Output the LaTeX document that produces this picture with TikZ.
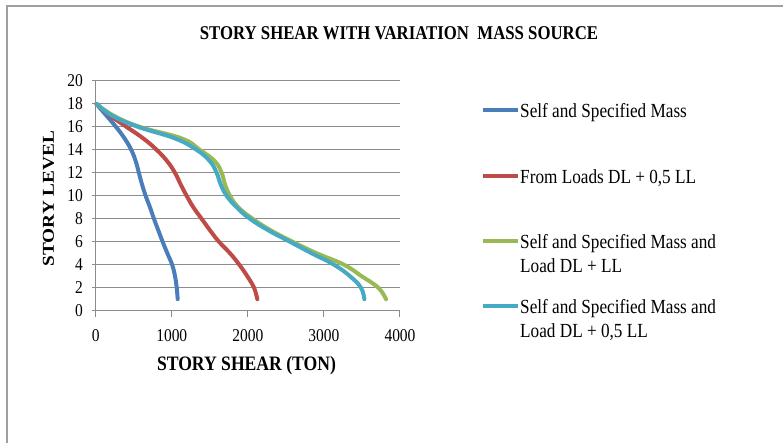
\documentclass[tikz,border=0pt]{standalone}
\usepackage{fontspec}
\setmainfont{Liberation Serif}[FakeStretch=0.86]
\newfontfamily\plainserif{Liberation Serif}
\definecolor{cBlue}{HTML}{4A7EBB}
\definecolor{cRed}{HTML}{BE4B48}
\definecolor{cGreen}{HTML}{98B954}
\definecolor{cCyan}{HTML}{46AAC5}
\definecolor{gridC}{HTML}{8C8C8C}
\definecolor{frameC}{HTML}{A0A0A0}
\begin{document}
\begin{tikzpicture}[x=1pt,y=-1pt,
  gridline/.style={draw=gridC,line width=1pt},
  ticklab/.style={font=\fontsize{18}{20}\selectfont,inner sep=0pt},
  leg/.style={font=\fontsize{20}{24}\selectfont,inner sep=0pt,anchor=base west},
  curve/.style={line width=4pt,line cap=round,line join=round},
  legline/.style={line width=4pt}]
\useasboundingbox (0,0) rectangle (783,443);
\fill[white] (0,0) rectangle (783,443);
% frame
\draw[draw=frameC,line width=2pt] (7,443) -- (7,6) -- (783,6);
% title
\node[inner sep=0pt,anchor=base,font=\bfseries\fontsize{19.5}{23}\selectfont] (title) at (399,40) {STORY SHEAR WITH VARIATION\ \ MASS SOURCE};
% grid
\foreach \i in {0,...,10}{
  \pgfmathsetmacro{\yy}{310.67-22.967*\i}
  \draw[gridline] (91.5,\yy) -- (400,\yy);
  \pgfmathtruncatemacro{\lab}{2*\i}
  \node[ticklab,anchor=east] (yl\i) at (83,\yy) {\lab};
}
\draw[gridline] (95.67,81) -- (95.67,310.67);
\foreach \i in {0,...,4}{
  \pgfmathsetmacro{\xx}{95.67+76.08*\i}
  \draw[gridline] (\xx,310.67) -- (\xx,316.5);
  \pgfmathtruncatemacro{\lab}{1000*\i}
  \node[ticklab,anchor=base] (xl\i) at (\xx,341.7) {\lab};
}
% axis labels
\node[inner sep=0pt,anchor=base,font=\bfseries\fontsize{20.5}{24}\selectfont] (xlab) at (246.5,370) {STORY SHEAR (TON)};
\node[inner sep=0pt] (ylab) at (48.5,198.5) {\scalebox{0.86}[1]{\rotatebox{90}{\plainserif\bfseries\fontsize{19.3}{22}\selectfont STORY LEVEL}}};
% curves
\begin{scope}[shift={(95.67,310.67)},x=0.07608pt,y=11.483pt]
\draw[curve,cBlue] plot[smooth,tension=0.7] coordinates {(10,18) (140,17) (268,16) (380,15) (468,14) (527,13) (568,12) (609,11) (657,10) (714,9) (766,8) (823,7) (880,6) (942,5) (1005,4) (1043,3) (1065,2) (1078,1)};
\draw[curve,cRed] plot[smooth,tension=0.7] coordinates {(10,18) (188,17) (407,16) (626,15) (802,14) (942,13) (1043,12) (1117,11) (1196,10) (1284,9) (1393,8) (1503,7) (1621,6) (1766,5) (1888,4) (1993,3) (2081,2) (2125,1)};
\draw[curve,cGreen] plot[smooth,tension=0.7] coordinates {(15,18) (232,17) (583,16) (1130,15) (1371,14) (1568,13) (1656,12) (1700,11) (1766,10) (1875,9) (2064,8) (2300,7) (2589,6) (2905,5) (3264,4) (3496,3) (3715,2) (3816,1)};
\draw[curve,cCyan] plot[smooth,tension=0.7] coordinates {(15,18) (210,17) (561,16) (1043,15) (1327,14) (1503,13) (1590,12) (1643,11) (1722,10) (1853,9) (2028,8) (2269,7) (2554,6) (2839,5) (3133,4) (3343,3) (3487,2) (3531,1)};
\end{scope}
% legend
\draw[legline,cBlue] (483,110) -- (518,110);
\node[leg] (l1) at (520,117.5) {Self and Specified Mass};
\draw[legline,cRed] (483,176) -- (518,176);
\node[leg] (l2) at (520,183.5) {From Loads DL + 0,5 LL};
\draw[legline,cGreen] (483,241) -- (518,241);
\node[leg] (l3a) at (520,248.5) {Self and Specified Mass and};
\node[leg] (l3b) at (520,272.8) {Load DL + LL};
\draw[legline,cCyan] (483,306) -- (518,306);
\node[leg] (l4a) at (520,313.5) {Self and Specified Mass and};
\node[leg] (l4b) at (520,337.8) {Load DL + 0,5 LL};
\end{tikzpicture}
\end{document}
